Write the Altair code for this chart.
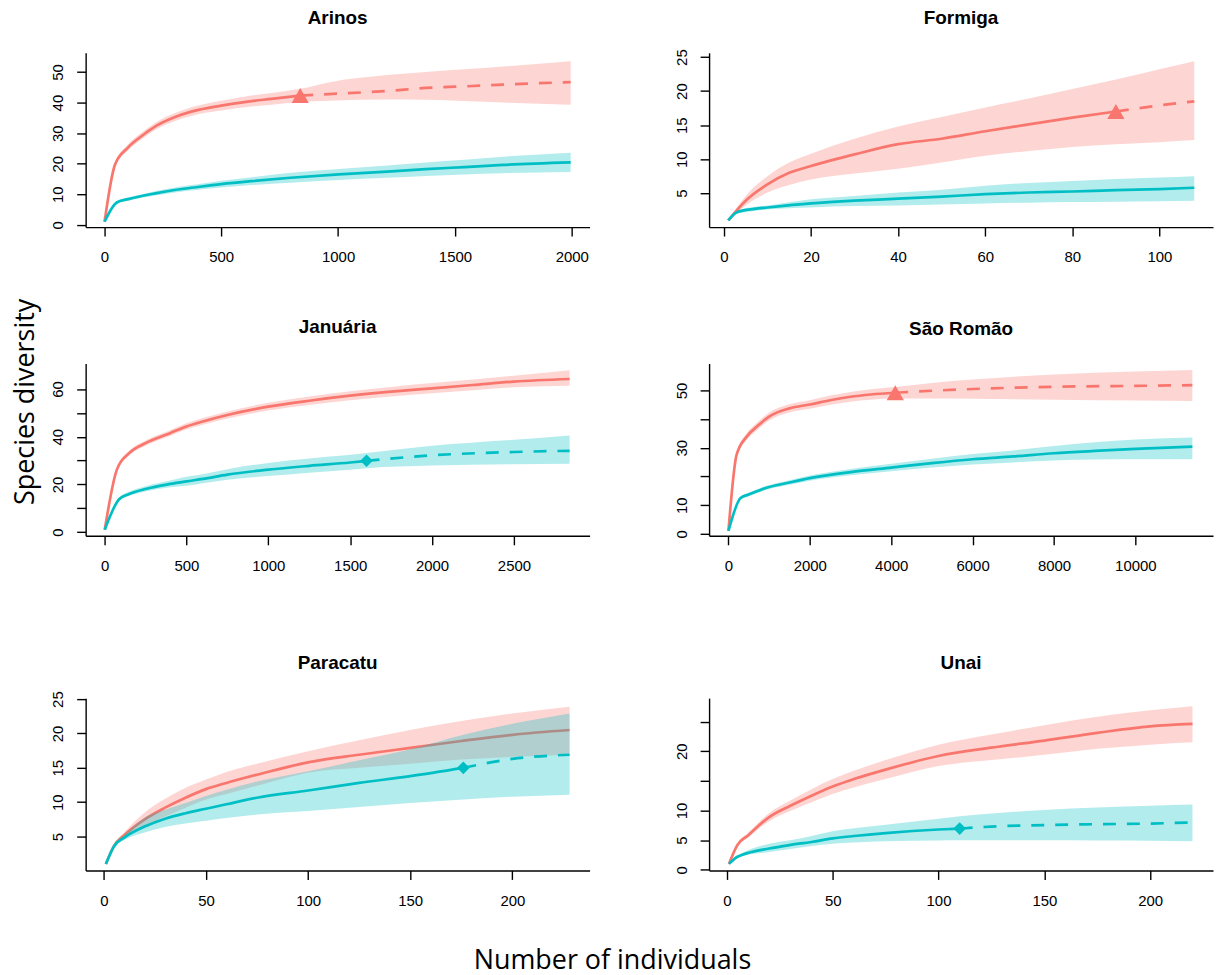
import altair as alt
import pandas as pd

RED = "#F8766D"
TEAL = "#00BFC4"

# ---------------- Arinos ----------------
ARINOS_RED_X = [1, 45, 100, 150, 220, 300, 380, 500, 630, 715, 838, 960, 1210, 1375, 1540, 1705, 1995]
ARINOS_RED_MEAN = [1, 19.6, 25.2, 28.5, 32.3, 35.2, 37.2, 39.0, 40.5, 41.2, 42.3, 42.8, 43.8, 44.8, 45.3, 45.9, 46.7]
ARINOS_RED_LO = [1, 18.8, 24.2, 27.4, 31.1, 33.9, 35.8, 37.4, 38.7, 39.3, 40.2, 40.6, 41.0, 40.9, 40.5, 40.0, 39.3]
ARINOS_RED_HI = [1, 20.4, 26.2, 29.6, 33.5, 36.5, 38.6, 40.6, 42.3, 43.1, 44.5, 46.6, 49.0, 50.0, 50.9, 51.8, 53.5]
ARINOS_RED_OBS = 838
ARINOS_TEAL_X = [1, 53, 102, 218, 301, 383, 500, 631, 797, 1003, 1210, 1375, 1540, 1706, 1995]
ARINOS_TEAL_MEAN = [1, 7.3, 8.4, 10.3, 11.4, 12.2, 13.3, 14.3, 15.4, 16.5, 17.4, 18.2, 18.9, 19.6, 20.4]
ARINOS_TEAL_LO = [1, 6.9, 7.9, 9.6, 10.6, 11.3, 12.2, 13.0, 13.8, 14.7, 15.4, 16.0, 16.5, 16.9, 17.3]
ARINOS_TEAL_HI = [1, 7.7, 8.9, 11.0, 12.2, 13.1, 14.4, 15.6, 17.0, 18.3, 19.4, 20.4, 21.3, 22.3, 23.6]
ARINOS_TEAL_OBS = 1995

# ---------------- Formiga ----------------
FORMIGA_RED_X = [1, 5, 10, 15, 20, 30, 40, 50, 60, 70, 80, 90, 100, 108]
FORMIGA_RED_MEAN = [1, 3.9, 6.3, 8.0, 9.0, 10.7, 12.2, 13.0, 14.1, 15.1, 16.1, 17.0, 17.9, 18.5]
FORMIGA_RED_LO = [1, 3.2, 5.1, 6.2, 7.0, 7.9, 8.6, 9.5, 10.5, 11.2, 11.8, 12.2, 12.5, 12.8]
FORMIGA_RED_HI = [1, 4.6, 7.5, 9.5, 10.8, 13.0, 14.8, 16.2, 17.6, 18.9, 20.3, 21.7, 23.2, 24.4]
FORMIGA_RED_OBS = 90
FORMIGA_TEAL_X = [1, 3, 7, 10, 20, 30, 40, 50, 60, 70, 80, 90, 100, 108]
FORMIGA_TEAL_MEAN = [1, 2.2, 2.7, 2.9, 3.5, 3.9, 4.2, 4.5, 4.85, 5.1, 5.25, 5.45, 5.6, 5.8]
FORMIGA_TEAL_LO = [1, 2.0, 2.4, 2.6, 2.9, 3.1, 3.2, 3.35, 3.5, 3.6, 3.7, 3.75, 3.8, 3.9]
FORMIGA_TEAL_HI = [1, 2.4, 3.0, 3.2, 4.1, 4.6, 5.1, 5.5, 6.1, 6.5, 6.8, 7.1, 7.3, 7.5]
FORMIGA_TEAL_OBS = 108

# ---------------- Januaria ----------------
JANUARIA_RED_X = [1, 75, 150, 250, 400, 500, 600, 750, 1000, 1250, 1500, 1750, 2000, 2250, 2500, 2840]
JANUARIA_RED_MEAN = [1, 26.2, 33.1, 37.3, 41.5, 44.3, 46.4, 49.1, 52.6, 55.1, 57.2, 58.9, 60.3, 61.7, 63.1, 64.2]
JANUARIA_RED_LO = [1, 25.4, 32.1, 36.2, 40.3, 43.0, 45.0, 47.6, 51.0, 53.3, 55.3, 56.9, 58.2, 59.5, 60.7, 61.4]
JANUARIA_RED_HI = [1, 27.0, 34.1, 38.4, 42.7, 45.6, 47.8, 50.6, 54.2, 56.9, 59.1, 60.9, 62.5, 64.0, 65.6, 67.9]
JANUARIA_RED_OBS = 2840
JANUARIA_TEAL_X = [1, 90, 150, 250, 400, 500, 600, 750, 1000, 1250, 1500, 1600, 2000, 2500, 2840]
JANUARIA_TEAL_MEAN = [1, 13.9, 16.0, 18.1, 20.2, 21.3, 22.3, 24.1, 26.2, 27.8, 29.2, 29.9, 32.2, 33.6, 34.1]
JANUARIA_TEAL_LO = [1, 13.2, 15.1, 17.0, 18.8, 19.4, 20.5, 22.0, 23.5, 24.9, 26.2, 26.8, 27.9, 28.5, 28.7]
JANUARIA_TEAL_HI = [1, 14.6, 16.9, 19.2, 21.6, 23.2, 24.3, 26.4, 29.0, 30.9, 32.4, 33.2, 36.2, 38.7, 40.5]
JANUARIA_TEAL_OBS = 1600

# ---------------- Sao Romao ----------------
SAOROMAO_RED_X = [1, 200, 450, 700, 1000, 1500, 2000, 2500, 3000, 3500, 4100, 5000, 6000, 8000, 10000, 11400]
SAOROMAO_RED_MEAN = [1, 27.5, 33.9, 37.4, 40.9, 43.75, 45.1, 46.6, 47.8, 48.6, 49.2, 49.9, 50.5, 51.3, 51.6, 51.85]
SAOROMAO_RED_LO = [1, 26.5, 32.7, 36.1, 39.5, 42.3, 43.6, 45.0, 46.1, 46.8, 47.2, 47.2, 47.1, 46.8, 46.5, 46.3]
SAOROMAO_RED_HI = [1, 28.5, 35.1, 38.7, 42.3, 45.2, 46.6, 48.2, 49.5, 50.4, 51.2, 52.6, 53.8, 55.6, 56.6, 57.1]
SAOROMAO_RED_OBS = 4100
SAOROMAO_TEAL_X = [1, 300, 500, 800, 1000, 1500, 2000, 3000, 4000, 5000, 6000, 7000, 8000, 9000, 10000, 11400]
SAOROMAO_TEAL_MEAN = [1, 12.5, 13.7, 15.4, 16.3, 17.9, 19.4, 21.5, 23.1, 24.65, 26.0, 27.0, 28.1, 28.9, 29.6, 30.4]
SAOROMAO_TEAL_LO = [1, 12.0, 13.1, 14.7, 15.6, 17.1, 18.5, 20.4, 21.8, 23.1, 24.2, 24.9, 25.6, 25.9, 26.0, 26.0]
SAOROMAO_TEAL_HI = [1, 13.0, 14.3, 16.1, 17.0, 18.7, 20.3, 22.6, 24.4, 26.2, 27.8, 29.1, 30.6, 31.9, 32.9, 33.6]
SAOROMAO_TEAL_OBS = 11400

# ---------------- Paracatu ----------------
PARACATU_RED_X = [1, 5, 10, 20, 30, 40, 50, 60, 75, 100, 125, 150, 175, 200, 228]
PARACATU_RED_MEAN = [1, 3.65, 5.2, 7.5, 9.2, 10.65, 11.9, 12.8, 14.0, 15.8, 16.9, 17.9, 18.9, 19.8, 20.5]
PARACATU_RED_LO = [1, 3.4, 4.8, 6.5, 7.9, 9.2, 10.4, 11.2, 12.4, 14.3, 15.0, 15.6, 16.2, 16.6, 16.9]
PARACATU_RED_HI = [1, 3.9, 5.6, 8.5, 10.5, 12.1, 13.3, 14.4, 15.6, 17.4, 19.0, 20.5, 21.8, 22.9, 23.9]
PARACATU_RED_OBS = 228
PARACATU_TEAL_X = [1, 5, 10, 20, 30, 40, 50, 60, 75, 100, 125, 150, 176, 200, 228]
PARACATU_TEAL_MEAN = [1, 3.6, 4.85, 6.45, 7.6, 8.4, 9.05, 9.7, 10.65, 11.7, 12.8, 13.8, 15.0, 16.3, 16.9]
PARACATU_TEAL_LO = [1, 3.4, 4.5, 5.6, 6.4, 6.9, 7.3, 7.7, 8.2, 8.7, 9.3, 9.9, 10.4, 10.8, 11.1]
PARACATU_TEAL_HI = [1, 3.8, 5.2, 7.75, 8.9, 9.9, 10.9, 11.8, 13.0, 14.5, 16.1, 17.7, 19.8, 21.4, 22.9]
PARACATU_TEAL_OBS = 176

# ---------------- Unai ----------------
UNAI_RED_X = [1, 5, 10, 20, 30, 40, 50, 60, 75, 100, 125, 150, 175, 200, 220]
UNAI_RED_MEAN = [1, 4.2, 5.8, 8.9, 10.8, 12.5, 14.05, 15.3, 16.9, 19.2, 20.6, 21.8, 23.1, 24.2, 24.6]
UNAI_RED_LO = [1, 3.9, 5.4, 8.2, 9.9, 11.4, 12.8, 13.9, 15.3, 17.5, 18.5, 19.4, 20.4, 21.1, 21.5]
UNAI_RED_HI = [1, 4.5, 6.2, 9.6, 11.7, 13.6, 15.3, 16.7, 18.5, 21.1, 22.8, 24.4, 25.8, 26.9, 27.6]
UNAI_RED_OBS = 220
UNAI_TEAL_X = [1, 5, 7, 20, 30, 40, 50, 60, 75, 100, 110, 125, 150, 175, 200, 220]
UNAI_TEAL_MEAN = [1, 2.2, 2.5, 3.6, 4.2, 4.7, 5.3, 5.7, 6.2, 6.8, 6.95, 7.3, 7.55, 7.7, 7.8, 8.0]
UNAI_TEAL_LO = [1, 2.0, 2.3, 3.0, 3.5, 4.0, 4.4, 4.6, 4.8, 4.95, 5.0, 5.0, 5.0, 4.95, 4.9, 4.8]
UNAI_TEAL_HI = [1, 2.4, 2.8, 4.4, 5.0, 5.7, 6.5, 7.0, 7.6, 8.6, 9.05, 9.5, 10.1, 10.5, 10.8, 11.0]
UNAI_TEAL_OBS = 110

# ---------------- axes ----------------
ARINOS_XTICKS = [0, 500, 1000, 1500, 2000]
ARINOS_YTICKS = [0, 10, 20, 30, 40, 50]
ARINOS_YLABELS = [0, 10, 20, 30, 40, 50]
FORMIGA_XTICKS = [0, 20, 40, 60, 80, 100]
FORMIGA_YTICKS = [5, 10, 15, 20, 25]
FORMIGA_YLABELS = [5, 10, 15, 20, 25]
JANUARIA_XTICKS = [0, 500, 1000, 1500, 2000, 2500]
JANUARIA_YTICKS = [0, 10, 20, 30, 40, 50, 60]
JANUARIA_YLABELS = [0, 20, 40, 60]
SAOROMAO_XTICKS = [0, 2000, 4000, 6000, 8000, 10000]
SAOROMAO_YTICKS = [0, 10, 20, 30, 40, 50]
SAOROMAO_YLABELS = [0, 10, 30, 50]
PARACATU_XTICKS = [0, 50, 100, 150, 200]
PARACATU_YTICKS = [5, 10, 15, 20, 25]
PARACATU_YLABELS = [5, 10, 15, 20, 25]
UNAI_XTICKS = [0, 50, 100, 150, 200]
UNAI_YTICKS = [0, 5, 10, 15, 20, 25]
UNAI_YLABELS = [0, 5, 10, 20]

TITLES = ["Arinos", "Formiga", "Januária", "São Romão", "Paracatu", "Unai"]
Y_TITLE = "Species diversity"
X_TITLE = "Number of individuals"

PANEL_W = 506
TICK_FONT = "Liberation Sans"
TITLE_FONT = "Liberation Sans"
BIG_FONT = "Open Sans"


def frames(xs, mean, lo, hi, obs):
    df = pd.DataFrame({"x": xs, "mean": mean, "lo": lo, "hi": hi})
    return df, df[df["x"] <= obs], df[df["x"] >= obs]


def panel(title, red, teal, marker, xdom, ydom, xticks, yticks, ylabels, h,
          title_offset=16, ytitle=False):
    xaxis = alt.Axis(values=xticks, format="d", tickSize=9, tickWidth=1.4, tickColor="black",
                     domainColor="black", domainWidth=1.4, labelFont=TICK_FONT,
                     labelFontSize=15, labelColor="black", labelPadding=21,
                     labelBaseline="middle", labelFlush=False, labelOverlap=False,
                     grid=False, title=None)
    expr = "indexof(%s, datum.value) >= 0 ? datum.label : ''" % str(ylabels)
    ykw = dict(values=yticks, format="d", tickSize=9, tickWidth=1.4, tickColor="black",
               domainColor="black", domainWidth=1.4, labelFont=TICK_FONT,
               labelFontSize=15, labelColor="black", labelPadding=19,
               labelAngle=270, labelAlign="center", labelBaseline="middle",
               labelFlush=False, labelOverlap=False, labelExpr=expr,
               grid=False, title=None)
    if ytitle:
        ykw.update(title=Y_TITLE, titleFont=BIG_FONT, titleFontSize=27,
                   titleFontWeight="normal", titleColor="black",
                   titleX=25 - 85, titleY=403 - 365, titleAlign="center",
                   titleBaseline="middle", titleAngle=270)
    yaxis = alt.Axis(**ykw)
    xs = alt.Scale(domain=xdom, nice=False, zero=False)
    ys = alt.Scale(domain=ydom, nice=False, zero=False)

    def X():
        return alt.X("x", type="quantitative", scale=xs, axis=xaxis)

    def Y(f):
        return alt.Y(f, type="quantitative", scale=ys, axis=yaxis)

    layers = []
    for (full, interp, extra), col in ((red, RED), (teal, TEAL)):
        layers.append(alt.Chart(full).mark_area(color=col, opacity=0.3, interpolate="monotone")
                      .encode(x=X(), y=Y("lo"), y2=alt.Y2("hi")))
        layers.append(alt.Chart(interp).mark_line(color=col, strokeWidth=2.7, interpolate="monotone")
                      .encode(x=X(), y=Y("mean")))
        if len(extra) > 1:
            layers.append(alt.Chart(extra).mark_line(color=col, strokeWidth=2.7, strokeDash=[13, 11],
                                                     interpolate="monotone")
                          .encode(x=X(), y=Y("mean")))
    mx, my, shape, col, size = marker
    mdf = pd.DataFrame({"x": [mx], "mean": [my]})
    layers.append(alt.Chart(mdf).mark_point(shape=shape, filled=True, size=size, color=col, opacity=1)
                  .encode(x=X(), y=Y("mean")))
    return alt.layer(*layers).properties(
        width=PANEL_W, height=h,
        title=alt.TitleParams(title, font=TITLE_FONT, fontSize=19, fontWeight="bold",
                              color="black", anchor="middle", frame="group",
                              baseline="middle", offset=title_offset))


p1 = panel(TITLES[0],
           frames(ARINOS_RED_X, ARINOS_RED_MEAN, ARINOS_RED_LO, ARINOS_RED_HI, ARINOS_RED_OBS),
           frames(ARINOS_TEAL_X, ARINOS_TEAL_MEAN, ARINOS_TEAL_LO, ARINOS_TEAL_HI, ARINOS_TEAL_OBS),
           (ARINOS_RED_OBS, 42.3, "triangle-up", RED, 300),
           [-80, 2076], [-0.75, 56.3], ARINOS_XTICKS, ARINOS_YTICKS, ARINOS_YLABELS, 175,
           title_offset=16)
p2 = panel(TITLES[1],
           frames(FORMIGA_RED_X, FORMIGA_RED_MEAN, FORMIGA_RED_LO, FORMIGA_RED_HI, FORMIGA_RED_OBS),
           frames(FORMIGA_TEAL_X, FORMIGA_TEAL_MEAN, FORMIGA_TEAL_LO, FORMIGA_TEAL_HI, FORMIGA_TEAL_OBS),
           (FORMIGA_RED_OBS, 17.0, "triangle-up", RED, 300),
           [-3.4, 112.3], [0.02, 25.63], FORMIGA_XTICKS, FORMIGA_YTICKS, FORMIGA_YLABELS, 175,
           title_offset=12)
p3 = panel(TITLES[2],
           frames(JANUARIA_RED_X, JANUARIA_RED_MEAN, JANUARIA_RED_LO, JANUARIA_RED_HI, JANUARIA_RED_OBS),
           frames(JANUARIA_TEAL_X, JANUARIA_TEAL_MEAN, JANUARIA_TEAL_LO, JANUARIA_TEAL_HI, JANUARIA_TEAL_OBS),
           (JANUARIA_TEAL_OBS, 29.9, "diamond", TEAL, 160),
           [-115.6, 2962], [-1.55, 70.7], JANUARIA_XTICKS, JANUARIA_YTICKS, JANUARIA_YLABELS, 173,
           title_offset=-48, ytitle=True)
p4 = panel(TITLES[3],
           frames(SAOROMAO_RED_X, SAOROMAO_RED_MEAN, SAOROMAO_RED_LO, SAOROMAO_RED_HI, SAOROMAO_RED_OBS),
           frames(SAOROMAO_TEAL_X, SAOROMAO_TEAL_MEAN, SAOROMAO_TEAL_LO, SAOROMAO_TEAL_HI, SAOROMAO_TEAL_OBS),
           (SAOROMAO_RED_OBS, 49.2, "triangle-up", RED, 300),
           [-475, 11908], [-0.7, 59.4], SAOROMAO_XTICKS, SAOROMAO_YTICKS, SAOROMAO_YLABELS, 173,
           title_offset=16)
p5 = panel(TITLES[4],
           frames(PARACATU_RED_X, PARACATU_RED_MEAN, PARACATU_RED_LO, PARACATU_RED_HI, PARACATU_RED_OBS),
           frames(PARACATU_TEAL_X, PARACATU_TEAL_MEAN, PARACATU_TEAL_LO, PARACATU_TEAL_HI, PARACATU_TEAL_OBS),
           (PARACATU_TEAL_OBS, 15.0, "diamond", TEAL, 160),
           [-8.9, 237.8], [0.07, 25.14], PARACATU_XTICKS, PARACATU_YTICKS, PARACATU_YLABELS, 173,
           title_offset=9)
p6 = panel(TITLES[5],
           frames(UNAI_RED_X, UNAI_RED_MEAN, UNAI_RED_LO, UNAI_RED_HI, UNAI_RED_OBS),
           frames(UNAI_TEAL_X, UNAI_TEAL_MEAN, UNAI_TEAL_LO, UNAI_TEAL_HI, UNAI_TEAL_OBS),
           (UNAI_TEAL_OBS, 6.95, "diamond", TEAL, 160),
           [-8.4, 229.7], [-0.1, 28.95], UNAI_XTICKS, UNAI_YTICKS, UNAI_YLABELS, 173,
           title_offset=16)

row1 = alt.hconcat(p1, p2, spacing=83)
row2 = alt.hconcat(p3, p4, spacing=83)
row3 = alt.hconcat(p5, p6, spacing=83)
lower = alt.vconcat(row2, row3, spacing=79)
chart = alt.vconcat(row1, lower, spacing=31).properties(
    padding={"left": 11, "top": 6, "right": 2, "bottom": 2},
    background="white",
    title=alt.TitleParams(X_TITLE, orient="bottom", anchor="middle", font=BIG_FONT,
                          fontSize=27, fontWeight="normal", color="black",
                          baseline="middle", offset=52),
).configure_view(stroke="transparent")

chart.save("out.html", embed_options={"renderer": "svg", "actions": False})
